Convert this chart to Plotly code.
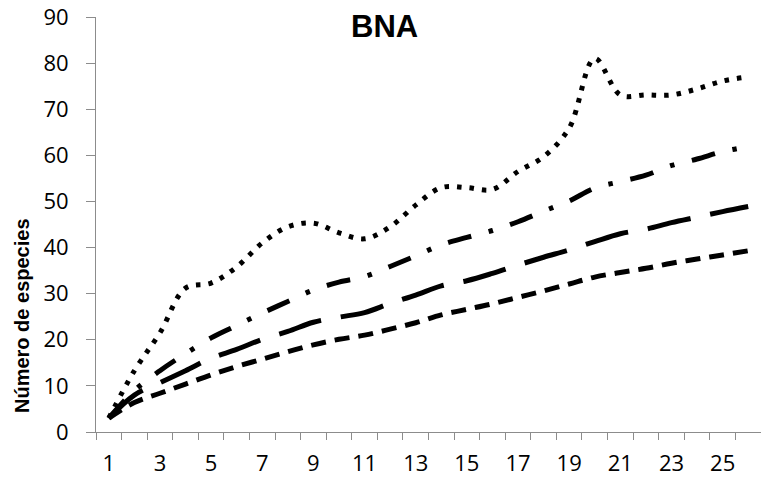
import plotly.graph_objects as go

x_vals = list(range(1, 27))
x_tick_labels = [str(v) for v in range(1, 26, 2)]
y_ticks = list(range(0, 91, 10))

series_dotted = [3, 13.3, 21.5, 31.2, 32.3, 35.8, 41, 44.5, 45.3, 43.2, 41.9, 44.5, 49.2,
                 53, 53, 52.6, 56.5, 59.7, 65.9, 81, 73.1, 73.1, 73.1, 74.4, 76.1, 77]
series_dashdot = [3, 9, 13.3, 17, 20.4, 23.1, 25.8, 28.3, 30.8, 32.5, 33.7, 35.9, 38.2,
                  40.6, 42.2, 43.7, 45.6, 47.9, 50.1, 52.9, 54.3, 55.7, 57.8, 59.2, 60.8, 61.9]
series_longdash = [3, 8, 10.7, 13.3, 16, 17.9, 20.1, 21.8, 23.8, 24.9, 25.9, 27.9, 29.7,
                   31.7, 32.8, 34.4, 36.2, 37.9, 39.5, 41.3, 43, 44, 45.4, 46.6, 47.8, 48.9]
series_shortdash = [3, 6.4, 8.4, 10.4, 12.4, 14.2, 15.8, 17.4, 18.9, 20.1, 21, 22.3, 23.7,
                    25.4, 26.6, 27.8, 29.2, 30.6, 32.1, 33.6, 34.6, 35.5, 36.6, 37.5, 38.4, 39.3]

series = [
    (series_dotted, "4.5px,8px"),
    (series_dashdot, "24px,18px,4.5px,18px"),
    (series_longdash, "44px,20px"),
    (series_shortdash, "15px,9px"),
]

fig = go.Figure()
for vals, dash in series:
    fig.add_trace(go.Scatter(
        x=x_vals, y=vals, mode="lines",
        line=dict(color="black", width=5, dash=dash, shape="spline", smoothing=1),
        showlegend=False, hoverinfo="skip"))

W, H = 761, 480
L, R, T, B = 96, 0, 17, 48
pw = W - L - R
ph = H - T - B

fig.update_layout(
    width=W, height=H,
    margin=dict(l=L, r=R, t=T, b=B, pad=0),
    paper_bgcolor="white", plot_bgcolor="white",
    font=dict(family="Open Sans", size=22, color="black"),
    showlegend=False,
)
fig.update_xaxes(
    range=[0.5, 26.5], showgrid=False, zeroline=False,
    showline=True, linecolor="#8c8c8c", linewidth=1,
    tickmode="array", tickvals=list(range(1, 26, 2)), ticktext=x_tick_labels,
    ticks="", ticklabelstandoff=12,
    minor=dict(tickmode="array", tickvals=[v + 0.5 for v in range(0, 27)],
               ticks="outside", ticklen=7, tickcolor="#8c8c8c", tickwidth=1, showgrid=False),
)
fig.update_yaxes(
    range=[0, 90], showgrid=False, zeroline=False,
    showline=True, linecolor="#8c8c8c", linewidth=1,
    tickmode="array", tickvals=y_ticks,
    ticks="outside", ticklen=9, tickcolor="#8c8c8c", tickwidth=1,
    ticklabelstandoff=13,
)

fig.add_annotation(
    text="<b>BNA</b>", xref="paper", yref="paper",
    x=(384 - L) / pw, y=(H - B - 27) / ph, xanchor="center", yanchor="middle",
    showarrow=False, font=dict(family="Liberation Sans", size=31, color="black"))
fig.add_annotation(
    text="<b>Número de especies</b>", xref="paper", yref="paper",
    x=(22 - L) / pw, y=(H - B - 316) / ph, xanchor="center", yanchor="middle",
    textangle=-90, showarrow=False,
    font=dict(family="Liberation Sans", size=20, color="black"))

fig.write_html("out.html")
